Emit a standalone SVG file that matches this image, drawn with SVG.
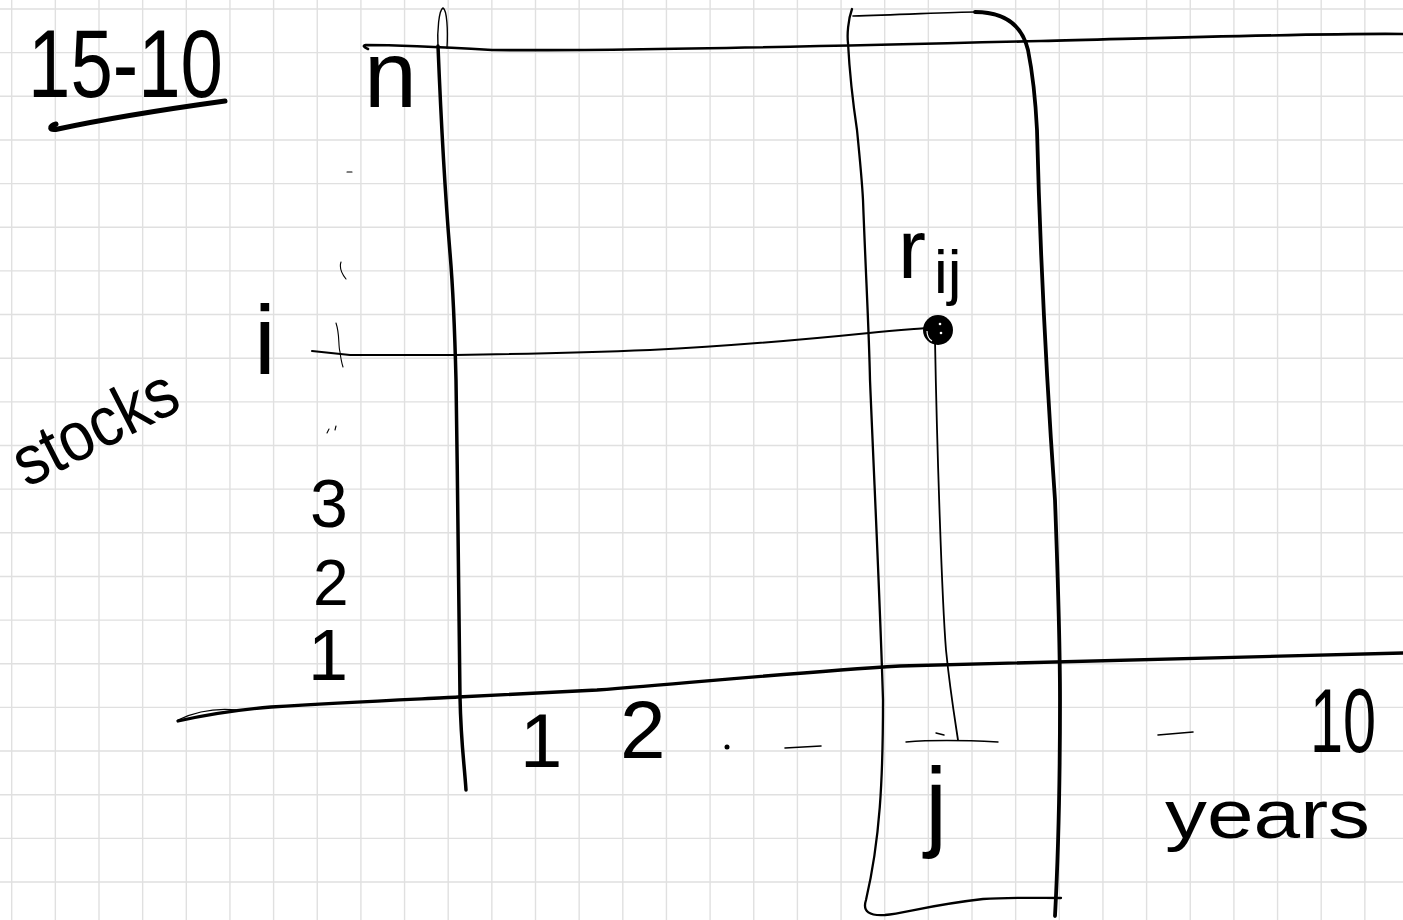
<svg xmlns="http://www.w3.org/2000/svg" width="1403" height="920" viewBox="0 0 1403 920">
<style>
.grid{stroke:#e0e0e0;stroke-width:1.4;fill:none}
.ink{stroke:#000;fill:none;stroke-linecap:round;stroke-linejoin:round}
.hw{font-family:"Liberation Sans","DejaVu Sans",sans-serif;fill:#000}
</style>
<rect width="1403" height="920" fill="#fff"/>
<g id="grid">
<path class="grid" d="M11.7,0V920M55.35,0V920M99,0V920M142.65,0V920M186.3,0V920M229.95,0V920M273.6,0V920M317.25,0V920M360.9,0V920M404.55,0V920M448.2,0V920M491.85,0V920M535.5,0V920M579.15,0V920M622.8,0V920M666.45,0V920M710.1,0V920M753.75,0V920M797.4,0V920M841.05,0V920M884.7,0V920M928.35,0V920M972,0V920M1015.65,0V920M1059.3,0V920M1102.95,0V920M1146.6,0V920M1190.25,0V920M1233.9,0V920M1277.55,0V920M1321.2,0V920M1364.85,0V920"/>
<path class="grid" d="M0,9H1403M0,52.65H1403M0,96.3H1403M0,139.95H1403M0,183.6H1403M0,227.25H1403M0,270.9H1403M0,314.55H1403M0,358.2H1403M0,401.85H1403M0,445.5H1403M0,489.15H1403M0,532.8H1403M0,576.45H1403M0,620.1H1403M0,663.75H1403M0,707.4H1403M0,751.05H1403M0,794.7H1403M0,838.35H1403M0,882H1403"/>
</g>
<g id="title">
<text class="hw" x="28" y="97" font-size="96" textLength="195" lengthAdjust="spacingAndGlyphs">15-10</text>
<path class="ink" stroke-width="5" d="M56,124 C48,126 49,131 58,129 C100,120 160,110 225,101"/>
</g>
<g id="connectors">
<path id="top-line" class="ink" stroke-width="2.6" d="M368,49 Q361,46 366,45 C400,45 440,47 492,50 C600,51 800,47 1041,41 C1200,37 1330,33 1403,34"/>
<path id="y-axis-loop" class="ink" stroke-width="1.4" d="M438,48 C437,30 439,10 443,8 C447,10 448,30 447,48"/>
<path id="y-axis" class="ink" stroke-width="3.5" d="M438,46 C441,120 444,180 450,253 C454,300 455,340 456,380 C458,500 459,650 460,697 S464,760 466,790"/>
<path id="x-axis-loop" class="ink" stroke-width="1.3" d="M178,720 C195,712 215,708 236,710"/>
<path id="x-axis" class="ink" stroke-width="3.3" d="M178,721 C205,715 235,710 271,707 C350,702 420,699 458,697 C520,694 560,692 597,690 C700,682 800,672 900,666 C1000,662 1180,660 1403,653"/>
<path id="row-i" class="ink" stroke-width="2" d="M312,351 C330,353 340,354 350,355 C400,355 430,355 455,355 C520,354 600,352 650,350 C750,345 820,338 869,333 C895,330 915,329 926,328"/>
<path id="col-j" class="ink" stroke-width="1.8" d="M935,340 C937,450 942,600 946,650 C950,690 955,720 958,740"/>
<path id="col-tick" class="ink" stroke-width="1.4" d="M906,742 C930,740 960,740 998,742 M936,733 L944,735"/>
</g>
<g id="band">
<path class="ink" stroke-width="1.7" d="M853,16 C900,15 950,12 975,12"/>
<path class="ink" stroke-width="3.8" d="M975,12 C1005,12 1022,25 1028,50 C1034,80 1036,110 1037,130 C1040,250 1048,400 1055,500 C1058,580 1060,650 1060,700 C1060,800 1058,860 1055,916"/>
<path class="ink" stroke-width="2.3" d="M852,9 C848,20 847,35 848,43 C850,80 854,110 857,130 C860,160 862,180 863,200 C866,280 869,330 870,380 C875,500 880,600 883,700 C883,780 880,840 866,900 C862,912 870,916 885,915 C905,913 930,905 983,899 C1010,897 1040,898 1061,898"/>
</g>
<g id="point-rij">
<circle cx="938" cy="330" r="15" fill="#000"/>
<path d="M927,331 Q927,338 932,341" stroke="#fff" stroke-width="1.2" fill="none"/>
<circle cx="940" cy="324" r="1.3" fill="#fff"/>
<circle cx="941" cy="333" r="1.3" fill="#fff"/>
<text class="hw" x="898" y="278" font-size="84">r</text>
<text class="hw" x="934" y="293" font-size="62">ij</text>
</g>
<g id="y-labels">
<text class="hw" x="364" y="107" font-size="95">n</text>
<text class="hw" x="254" y="374" font-size="98">i</text>
<text class="hw" x="310" y="527" font-size="68">3</text>
<text class="hw" x="313" y="605" font-size="64">2</text>
<text class="hw" x="308" y="680" font-size="72">1</text>
<path class="ink" stroke-width="1.1" d="M336,323 C340,335 338,345 340,352 C341,360 342,364 343,367 M341,262 C339,268 342,274 346,279 M347,172 L352,172 M327,433 L329,429 M335,430 L336,426"/>
<text class="hw" x="27" y="488" font-size="70" textLength="176" lengthAdjust="spacingAndGlyphs" transform="rotate(-27 27 488)">stocks</text>
</g>
<g id="x-labels">
<text class="hw" x="520" y="767" font-size="76">1</text>
<text class="hw" x="620" y="758" font-size="82">2</text>
<circle cx="727" cy="747" r="2.5" fill="#000"/>
<path class="ink" stroke-width="1.6" d="M785,748 L821,746 M1158,735 L1193,732"/>
<text class="hw" x="0" y="0" font-size="90" transform="translate(1310 752) scale(0.66 1)">10</text>
<text class="hw" x="925" y="838" font-size="100">j</text>
<text class="hw" x="1165" y="838" font-size="68" textLength="205" lengthAdjust="spacingAndGlyphs">years</text>
</g>
</svg>
